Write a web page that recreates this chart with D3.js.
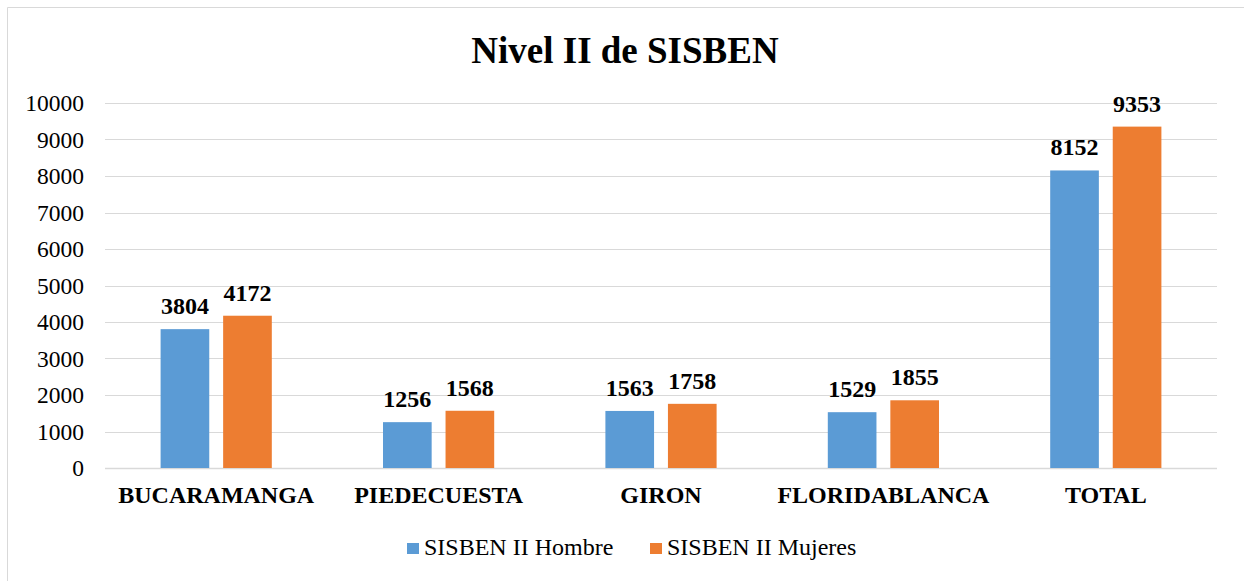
<!DOCTYPE html>
<html>
<head>
<meta charset="utf-8">
<script src="https://cdn.jsdelivr.net/npm/d3@7"></script>
<style>
  body { margin: 0; background: #fff; }
  svg { font-family: "Liberation Serif", "Times New Roman", serif; }
</style>
</head>
<body>
<div id="chart"></div>
<script>
// data
var categories = ["BUCARAMANGA", "PIEDECUESTA", "GIRON", "FLORIDABLANCA", "TOTAL"];
var hombres = [3804, 1256, 1563, 1529, 8152];
var mujeres = [4172, 1568, 1758, 1855, 9353];
var seriesNames = ["SISBEN II Hombre", "SISBEN II Mujeres"];
var yTicks = [0, 1000, 2000, 3000, 4000, 5000, 6000, 7000, 8000, 9000, 10000];

var W = 1244, H = 581;
var margin = {top: 103, right: 27, bottom: 113, left: 105},
    width = W - margin.left - margin.right,
    height = H - margin.top - margin.bottom;

var svg = d3.select("#chart").append("svg")
    .attr("width", W)
    .attr("height", H);

// frame (left + top edge only visible in the picture)
svg.append("path")
  .attr("d", "M7.5," + H + "V7.5H" + W)
  .attr("fill", "none")
  .attr("stroke", "#d9d9d9")
  .attr("stroke-width", 1);

svg.append("text")
  .attr("x", 625).attr("y", 63)
  .attr("text-anchor", "middle")
  .attr("font-size", 37)
  .attr("font-weight", "bold")
  .text("Nivel II de SISBEN");

var g = svg.append("g")
  .attr("transform", "translate(" + margin.left + "," + margin.top + ")");

var y = d3.scaleLinear().domain([0, 10000]).range([height, 0]);
var x0 = d3.scaleBand().domain(categories).range([0, width]).paddingInner(0.5).paddingOuter(0.25);
var x1 = d3.scaleBand().domain(seriesNames).range([0, x0.bandwidth()]).paddingInner(0.222);
var color = d3.scaleOrdinal().domain(seriesNames).range(["#5b9bd5", "#ed7d31"]);

// gridlines
g.append("g")
  .selectAll("line")
  .data(yTicks)
  .enter().append("line")
    .attr("x1", 0).attr("x2", width)
    .attr("y1", function(d) { return Math.round(y(d)) + 0.5; })
    .attr("y2", function(d) { return Math.round(y(d)) + 0.5; })
    .attr("stroke", "#d9d9d9")
    .attr("stroke-width", function(d) { return d === 0 ? 1.5 : 1; });

// y axis labels
var yAxis = g.append("g")
  .call(d3.axisLeft(y).tickValues(yTicks).tickSize(0).tickPadding(21).tickFormat(d3.format("d")));
yAxis.select(".domain").remove();
yAxis.selectAll("text")
  .style("font-family", "'Liberation Serif', serif")
  .attr("font-size", 23.5)
  .attr("fill", "#000");

// x axis labels
var xAxis = g.append("g")
  .attr("transform", "translate(0," + height + ")")
  .call(d3.axisBottom(x0).tickSize(0).tickPadding(18));
xAxis.select(".domain").remove();
xAxis.selectAll("text")
  .style("font-family", "'Liberation Serif', serif")
  .attr("font-size", 24)
  .attr("font-weight", "bold")
  .attr("fill", "#000");

var rows = categories.map(function(c, i) {
  return {cat: c, vals: [
    {name: seriesNames[0], value: hombres[i]},
    {name: seriesNames[1], value: mujeres[i]}
  ]};
});

var groups = g.selectAll(".grp")
  .data(rows)
  .enter().append("g")
    .attr("class", "grp")
    .attr("transform", function(d) { return "translate(" + x0(d.cat) + ",0)"; });

groups.selectAll("rect")
  .data(function(d) { return d.vals; })
  .enter().append("rect")
    .attr("x", function(d) { return x1(d.name); })
    .attr("y", function(d) { return y(d.value); })
    .attr("width", x1.bandwidth())
    .attr("height", function(d) { return height - y(d.value); })
    .attr("fill", function(d) { return color(d.name); });

groups.selectAll(".lbl")
  .data(function(d) { return d.vals; })
  .enter().append("text")
    .attr("class", "lbl")
    .attr("x", function(d) { return x1(d.name) + x1.bandwidth() / 2; })
    .attr("y", function(d) { return y(d.value) - 15; })
    .attr("text-anchor", "middle")
    .attr("font-size", 24)
    .attr("font-weight", "bold")
    .text(function(d) { return d.value; });

// legend
var legend = svg.append("g").attr("transform", "translate(407,548)");
var legX = [0, 243];
seriesNames.forEach(function(n, i) {
  var lg = legend.append("g").attr("transform", "translate(" + legX[i] + ",0)");
  lg.append("rect").attr("x", 0).attr("y", -5).attr("width", 12).attr("height", 11).attr("fill", color(n));
  lg.append("text").attr("x", 17).attr("y", 7).attr("font-size", 24).text(n);
});
</script>
</body>
</html>
